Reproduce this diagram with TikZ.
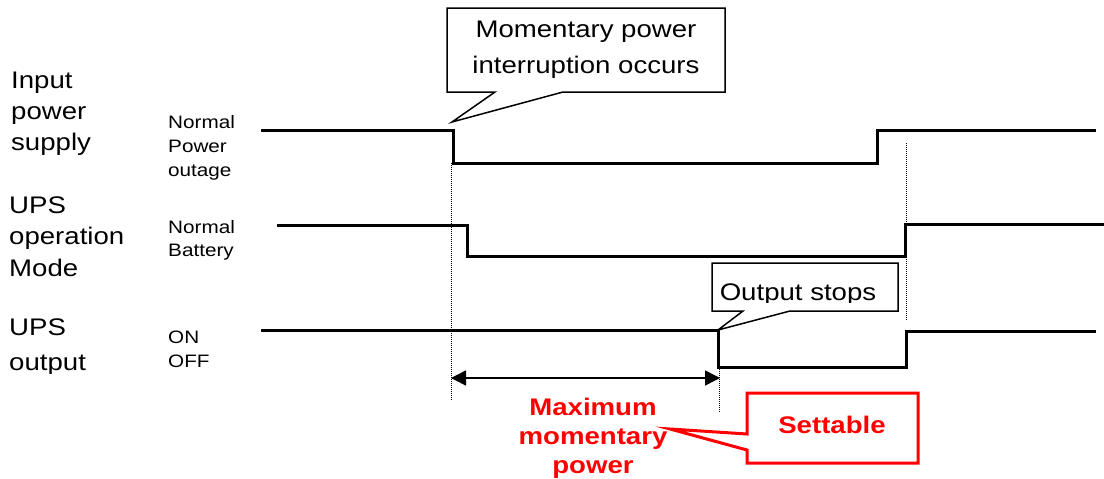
\documentclass[tikz,border=0pt]{standalone}
\usepackage{fontspec}
\setmainfont[FakeStretch=1.15]{Liberation Sans}
\usetikzlibrary{arrows.meta}
\begin{document}
\begin{tikzpicture}[x=1pt,y=-1pt,
  wave/.style={line width=3pt, line cap=butt, line join=miter},
  guide/.style={line width=1pt, dash pattern=on 1pt off 1pt},
  big/.style={font=\fontsize{24}{30}\selectfont, inner sep=0pt, anchor=base west},
  small/.style={font=\fontsize{18}{22}\selectfont, inner sep=0pt, anchor=base west},
  boxtxt/.style={font=\fontsize{24}{30}\selectfont, inner sep=0pt, anchor=base},
  callout/.style={draw, line width=1.5pt, line join=miter},
  redtxt/.style={font=\bfseries\fontsize{24}{30}\selectfont, text=red, inner sep=0pt, anchor=base},
  dimarrow/.style={line width=1.5pt, {Triangle[length=15pt,width=15pt]}-{Triangle[length=15pt,width=15pt]}}
]
\useasboundingbox[fill=white] (0,0) rectangle (1104,479);

% left labels
\node[big] (in1) at (11,88) {Input};
\node[big] (in2) at (11,119) {power};
\node[big] (in3) at (11,150) {supply};
\node[big] (md1) at (9,213) {UPS};
\node[big] (md2) at (9,244) {operation};
\node[big] (md3) at (9,276) {Mode};
\node[big] (ou1) at (9,335) {UPS};
\begin{scope}
  \clip (0,340) rectangle (160,373);
  \node[big] (ou2) at (9,370) {output};
\end{scope}

% state labels
\node[small] (s1) at (168,128) {Normal};
\node[small] (s2) at (168,152) {Power};
\node[small] (s3) at (168,176) {outage};
\node[small] (s4) at (168,233) {Normal};
\node[small] (s5) at (168,256) {Battery};
\node[small] (s6) at (168,343) {ON};
\node[small] (s7) at (168,367) {OFF};

% guide lines
\coordinate (g1t) at (451,163); \coordinate (g1b) at (451,400);
\coordinate (g2t) at (719,367); \coordinate (g2b) at (719,413);
\coordinate (g3t) at (906,143); \coordinate (g3b) at (906,320);
\draw[guide] (g1t) -- (g1b);
\draw[guide] (g2t) -- (g2b);
\draw[guide] (g3t) -- (g3b);

% waveforms
\draw[wave] (261,130) -- (453,130) -- (453,163) -- (877,163) -- (877,130) -- (1096,130);
\draw[wave] (277,225) -- (467,225) -- (467,256) -- (905,256) -- (905,224) -- (1104,224);
\draw[wave] (261,330) -- (718,330) -- (718,367) -- (906,367) -- (906,331) -- (1096,331);

% dimension arrow
\coordinate (a1) at (451,378); \coordinate (a2) at (720,378);
\draw[dimarrow] (a1) -- (a2);

% callout 1
\draw[callout, fill=white] (447,8) -- (725,8) -- (725,92) -- (563,92) -- (452,122) -- (495,92) -- (447,92) -- cycle;
\node[boxtxt] (c1a) at (586,37) {Momentary power};
\node[boxtxt] (c1b) at (586,73) {interruption occurs};

% callout 2
\draw[callout, fill=white] (712,263) -- (898,263) -- (898,311) -- (790,311) -- (718,330) -- (743,311) -- (712,311) -- cycle;
\begin{scope}
  \clip (712,263) rectangle (898,302);
  \node[boxtxt] (c2) at (798,300) {Output stops};
\end{scope}

% red text
\node[redtxt] (r1) at (593,415) {Maximum};
\node[redtxt] (r2) at (593,444) {momentary};
\node[redtxt] (r3) at (593,473) {power};

% settable callout
\draw[draw=red, line width=3pt, line join=miter, fill=white] (747,393) -- (918,393) -- (918,463) -- (747,463) -- (747,450) -- (670,429) -- (747,434) -- cycle;
\node[redtxt] (st) at (832,433) {Settable};
\end{tikzpicture}
\end{document}
